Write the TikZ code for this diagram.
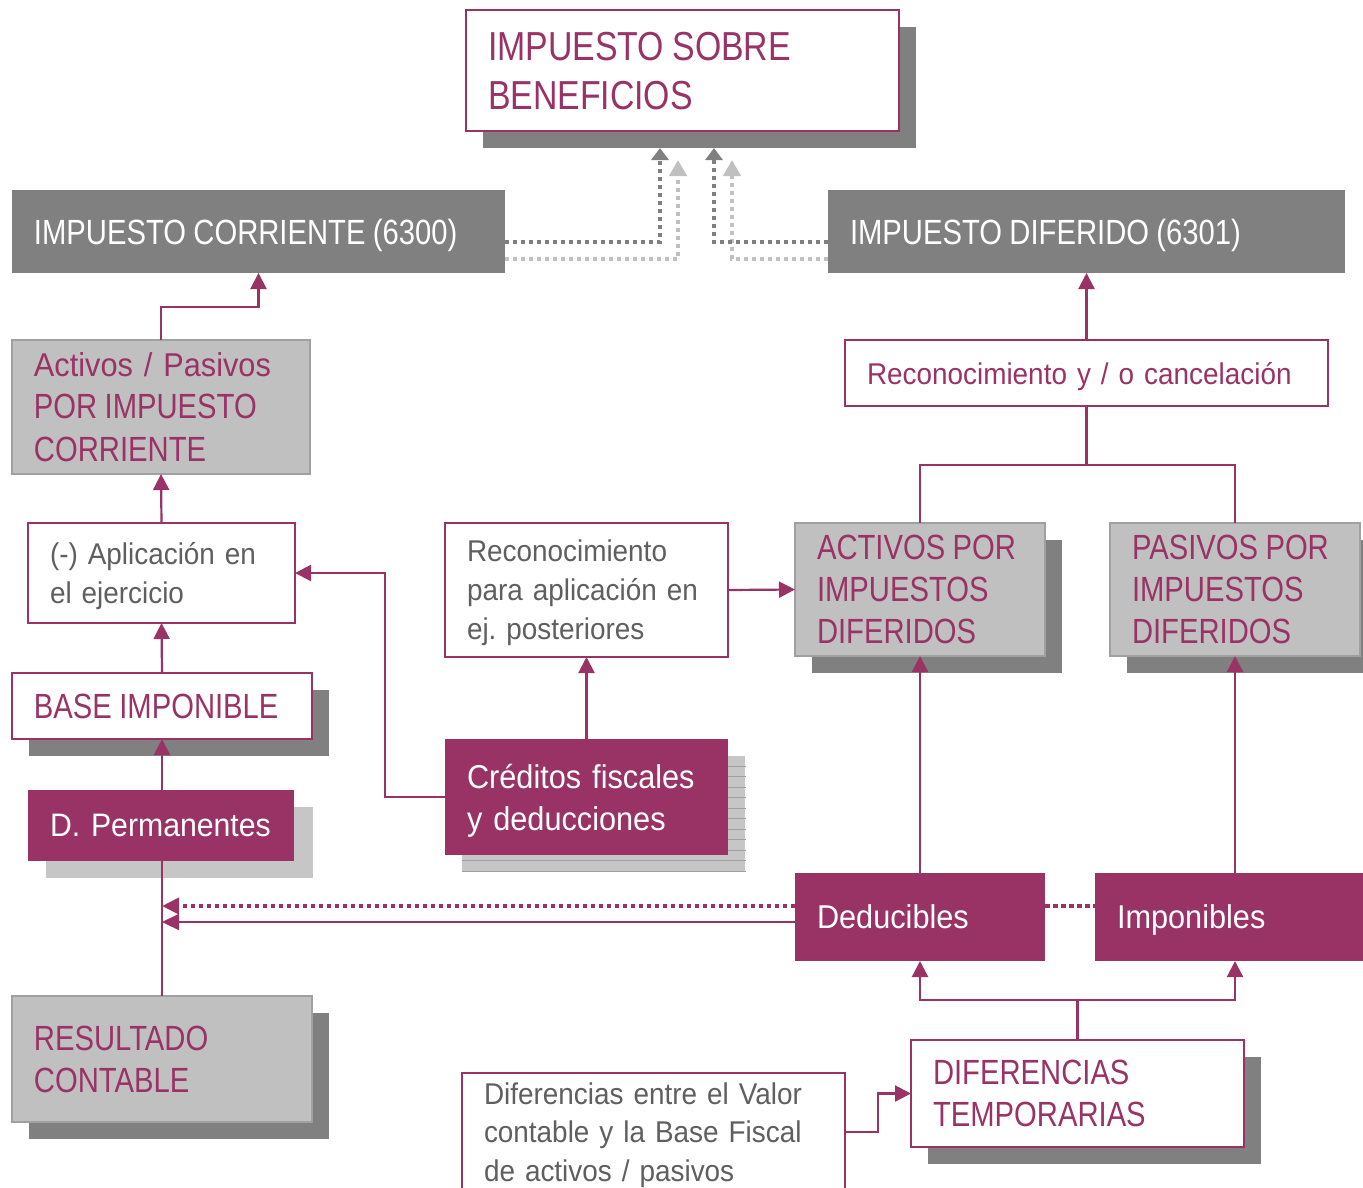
\documentclass[tikz,border=0pt]{standalone}
\usepackage{fontspec}
\setmainfont{Liberation Sans}[FakeStretch=0.93]
\newfontfamily\capsfam{Liberation Sans}[FakeStretch=0.835]
\usetikzlibrary{arrows.meta,backgrounds}
\hyphenpenalty=10000
\exhyphenpenalty=10000
\frenchspacing
\definecolor{mag}{HTML}{993366}
\definecolor{dgray}{HTML}{808080}
\definecolor{lgray}{HTML}{C0C0C0}
\definecolor{bgray}{HTML}{A0A0A0}
\definecolor{tgray}{HTML}{5F5F5F}
\definecolor{pgray}{HTML}{C6C6C6}
\definecolor{ldot}{HTML}{C0C0C0}
\newcommand\capsp{\capsfam\spaceskip=0.21em\relax}
\begin{document}
\begin{tikzpicture}[x=1pt,y=-1pt,
  base/.style={rectangle, anchor=north west, inner xsep=22pt, inner ysep=0pt, outer sep=0pt, align=left},
  sz/.style n args={3}{minimum width=#1pt, minimum height=#2pt, text width=#3pt},
  td/.style={text depth=#1pt},
  wbox/.style={base, draw=mag, line width=2pt, fill=white},
  gbox/.style={base, draw=bgray, line width=2pt, fill=lgray, text=mag},
  dbox/.style={base, fill=dgray, text=white},
  mbox/.style={base, fill=mag, text=white},
  capsA/.style={font=\fontsize{35}{42}\selectfont\capsfam, execute at begin node=\capsp},
  lowA/.style={font=\fontsize{33}{42}\selectfont},
  lowB/.style={font=\fontsize{30}{39}\selectfont},
  conn/.style={draw=mag, line width=2.2pt},
  arr/.style={conn, -{Triangle[length=16pt,width=16pt]}},
  dotd/.style={draw=dgray, line width=4pt, dash pattern=on 4pt off 4pt, -{Triangle[length=12pt,width=17pt]}},
  dotl/.style={draw=ldot, line width=4pt, dash pattern=on 4pt off 4pt, -{Triangle[length=16pt,width=17pt]}},
  dotm/.style={draw=mag, line width=4pt, dash pattern=on 4.5pt off 3.5pt},
  shad/.style={fill=dgray},
  pshad/.style={fill=pgray}
]
\useasboundingbox (0,0) rectangle (1363,1187);

% nodes
\node[wbox, text=mag, sz={433}{121}{389}, td=49, font=\fontsize{40.5}{49}\selectfont\capsfam, execute at begin node=\capsp] (title) at (466,10) {IMPUESTO SOBRE\\BENEFICIOS};
\node[dbox, sz={493}{83}{449}, td=0, capsA] (corr) at (12,190) {\mbox{IMPUESTO CORRIENTE (6300)}};
\node[dbox, sz={517}{83}{473}, td=0, capsA] (dif) at (828,190) {\mbox{IMPUESTO DIFERIDO (6301)}};
\node[gbox, sz={298}{134}{254}, td=85, font=\fontsize{33}{42.5}\selectfont] (apc) at (12,340) {Activos / Pasivos\\{\fontsize{35}{42.5}\selectfont\capsp POR IMPUESTO}\\{\fontsize{35}{42.5}\selectfont\capsp CORRIENTE}};
\node[wbox, text=tgray, sz={267}{100}{223}, td=39, lowB] (apl) at (28,523) {(-) Aplicación en\\el ejercicio};
\node[wbox, text=mag, sz={300}{66}{256}, td=0, capsA] (base) at (12,673) {\mbox{BASE IMPONIBLE}};
\node[gbox, sz={300}{126}{256}, td=42, capsA] (res) at (12,996) {RESULTADO\\CONTABLE};
\node[wbox, text=tgray, sz={283}{134}{239}, td=78, lowB] (recp) at (445,523) {Reconocimiento\\para aplicación en\\ej. posteriores};
\node[mbox, sz={283}{116}{239}, td=42, lowA] (cred) at (445,739) {Créditos fiscales\\y deducciones};
\node[wbox, text=mag, sz={483}{66}{439}, td=0, font=\fontsize{30}{36}\selectfont] (recc) at (845,340) {\mbox{Reconocimiento y / o cancelación}};
\node[gbox, sz={250}{133}{206}, td=84, capsA] (actd) at (795,523) {ACTIVOS POR\\IMPUESTOS\\DIFERIDOS};
\node[gbox, sz={250}{133}{206}, td=84, capsA] (pasd) at (1110,523) {PASIVOS POR\\IMPUESTOS\\DIFERIDOS};
\node[mbox, sz={250}{88}{206}, td=0, lowA] (ded) at (795,873) {Deducibles};
\node[mbox, sz={280}{88}{236}, td=0, lowA] (imp) at (1095,873) {Imponibles};
\node[wbox, text=mag, sz={333}{107}{289}, td=42, capsA] (dtemp) at (911,1040) {DIFERENCIAS\\TEMPORARIAS};
\node[wbox, text=tgray, sz={383}{118}{339}, td=77, font=\fontsize{30}{38.5}\selectfont] (dife) at (462,1073) {Diferencias entre el Valor\\contable y la Base Fiscal\\de activos / pasivos};

% shadows and background
\begin{pgfonlayer}{background}
  \fill[white] (0,0) rectangle (1363,1187);
  \foreach \n in {title,base,res,actd,pasd,dtemp}{
    \fill[shad] ([shift={(17,17)}]\n.north west) rectangle ([shift={(17,17)}]\n.south east);
  }
  \fill[pshad] ([shift={(17,17)}]cred.north west) rectangle ([shift={(17,17)}]cred.south east);
  \foreach \k in {0,...,10}{
    \draw[gray!75, line width=0.8pt] (462,{766+10.5*\k}) -- (746,{766+10.5*\k});
  }
\end{pgfonlayer}

% top dotted connectors
\coordinate (tA) at ([shift={(-22.5,17)}]title.south);
\coordinate (tB) at ([shift={(-4.5,29)}]title.south);
\coordinate (tC) at ([shift={(31.5,17)}]title.south);
\coordinate (tD) at ([shift={(49.5,29)}]title.south);
\draw[dotl] ([yshift=-27pt]corr.east) -| (tB);
\draw[dotd] ([yshift=-10.5pt]corr.east) -| (tA);
\draw[dotl] ([yshift=-27pt]dif.west) -| (tD);
\draw[dotd] ([yshift=-10.5pt]dif.west) -| (tC);

% left column
\draw[arr] (apc.north) -- ++(0,-33) -| (corr.south);
\draw[arr] (apl.north) -- (apc.south);
\draw[arr] (base.north) -- (apl.south);
\draw[arr] (res.north) -- (base.south);
\draw[arr] (cred.west) -- ++(-60,0) |- (apl.east);
\draw[arr] (cred.north) -- (recp.south);
\draw[arr] (recp.east) -- (actd.west);

% right column
\draw[arr] (recc.north) -- (dif.south);
\draw[conn] (actd.north) -- ++(0,-58) -| (pasd.north);
\draw[conn] (recc.south) -- ++(0,59);
\draw[arr] (ded.north) -- (actd.south);
\coordinate (impT) at (pasd.south |- imp.north);
\coordinate (impB) at (pasd.south |- imp.south);
\draw[arr] (impT) -- (pasd.south);
\draw[arr] (dtemp.north) -- ++(0,-40) -| (ded.south);
\draw[arr] (dtemp.north) -- ++(0,-40) -| (impB);
\draw[arr] (dife.east) -- ++(33,0) |- (dtemp.west);

% bottom horizontal connectors
\coordinate (dd) at ([yshift=11pt]ded.west);
\coordinate (ds) at ([yshift=-5pt]ded.west);
\coordinate (de) at ([yshift=11pt]ded.east);
\draw[dotm, -{Triangle[length=17pt,width=16pt]}] (dd) -- (dd -| res.north);
\draw[arr, -{Triangle[length=17pt,width=16pt]}] (ds) -- (ds -| res.north);
\draw[dotm] (de) -- (de -| imp.west);

% D. Permanentes over the vertical connector
\begin{pgfonlayer}{background}
  \fill[pshad] (46,807) rectangle (313,878);
\end{pgfonlayer}
\node[mbox, sz={266}{71}{222}, td=0, font=\fontsize{32.5}{42}\selectfont] (dperm) at (28,790) {\mbox{D. Permanentes}};
\end{tikzpicture}
\end{document}
